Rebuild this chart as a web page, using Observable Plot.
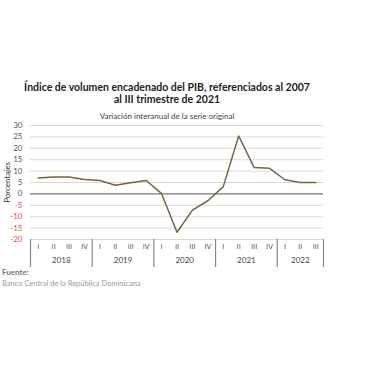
<!DOCTYPE html>
<html>
<head>
<meta charset="utf-8">
<script src="https://cdn.jsdelivr.net/npm/d3@7"></script>
<script src="https://cdn.jsdelivr.net/npm/@observablehq/plot@0.6"></script>
<style>
  html, body { margin: 0; padding: 0; background: #fff; width: 380px; height: 380px; overflow: hidden; font-family: Lato, "Open Sans", sans-serif; }
  .abs { position: absolute; }
  #title { top: 81px; left: 0; width: 334px; text-align: center; font-weight: bold; font-size: 10.5px; line-height: 12px; color: #222; }
  #subtitle { top: 111px; left: 0; width: 334px; text-align: center; font-size: 8px; color: #444; }
  #chart { top: 118px; left: 0; }
  #fuente { top: 267px; left: 2px; font-size: 8px; font-weight: bold; color: #777; }
  #source { top: 279px; left: 2px; font-size: 7.5px; color: #999; }
</style>
</head>
<body>
<div id="title" class="abs">Índice de volumen encadenado del PIB, referenciados al 2007<br>al III trimestre de 2021</div>
<div id="subtitle" class="abs">Variación interanual de la serie original</div>
<div id="chart" class="abs"></div>
<div id="fuente" class="abs">Fuente:</div>
<div id="source" class="abs">Banco Central de la República Dominicana</div>
<script>
const quarters = ["I","II","III","IV","I","II","III","IV","I","II","III","IV","I","II","III","IV","I","II","III"];
const years = ["2018","2018","2018","2018","2019","2019","2019","2019","2020","2020","2020","2020","2021","2021","2021","2021","2022","2022","2022"];
const values = [7.0, 7.4, 7.4, 6.3, 5.9, 3.8, 4.9, 5.9, 0.1, -16.8, -7.1, -3.0, 3.2, 25.4, 11.6, 11.2, 6.2, 5.0, 5.0];
const yTicks = [-20, -15, -10, -5, 0, 5, 10, 15, 20, 25, 30];

const data = values.map((v, i) => ({i, v, q: quarters[i], year: years[i]}));
const yearGroups = d3.groups(data, d => d.year).map(([year, arr]) => ({
  year, center: d3.mean(arr, d => d.i), start: d3.min(arr, d => d.i) - 0.5, end: d3.max(arr, d => d.i) + 0.5
}));
const seps = Array.from(new Set(yearGroups.flatMap(g => [g.start, g.end])));

const plot = Plot.plot({
  width: 380,
  height: 150,
  marginTop: 7,
  marginBottom: 29,
  marginLeft: 30,
  marginRight: 57,
  style: {fontFamily: "Lato, 'Open Sans', sans-serif", fontSize: "8px", background: "transparent"},
  x: {domain: [-0.5, values.length - 0.5], axis: null},
  y: {domain: [-20, 30], axis: null},
  marks: [
    Plot.gridY(yTicks, {stroke: "#d9d9d9", strokeOpacity: 1}),
    Plot.ruleY([0], {stroke: "#808080", strokeWidth: 1.2}),
    Plot.text(yTicks.filter(d => d >= 0), {y: d => d, frameAnchor: "left", textAnchor: "end", dx: -8, fill: "#555", fontSize: 8}),
    Plot.text(yTicks.filter(d => d < 0), {y: d => d, frameAnchor: "left", textAnchor: "end", dx: -8, fill: "#f04848", fontSize: 8}),
    Plot.text(["Porcentajes"], {frameAnchor: "left", textAnchor: "middle", dx: -23, rotate: -90, fill: "#333", fontSize: 8}),
    Plot.axisX(seps, {anchor: "bottom", tickSize: 28, tickFormat: () => "", stroke: "#888", strokeWidth: 1.2, label: null}),
    Plot.text(data, {x: "i", text: "q", frameAnchor: "bottom", dy: 9, fill: "#555", fontSize: 7, fontFamily: "DejaVu Sans"}),
    Plot.text(yearGroups, {x: "center", text: "year", frameAnchor: "bottom", dy: 23, fill: "#444", fontSize: 8}),
    Plot.line(data, {x: "i", y: "v", stroke: "#7b6340", strokeWidth: 1.5})
  ]
});
document.getElementById("chart").appendChild(plot);
</script>
</body>
</html>
